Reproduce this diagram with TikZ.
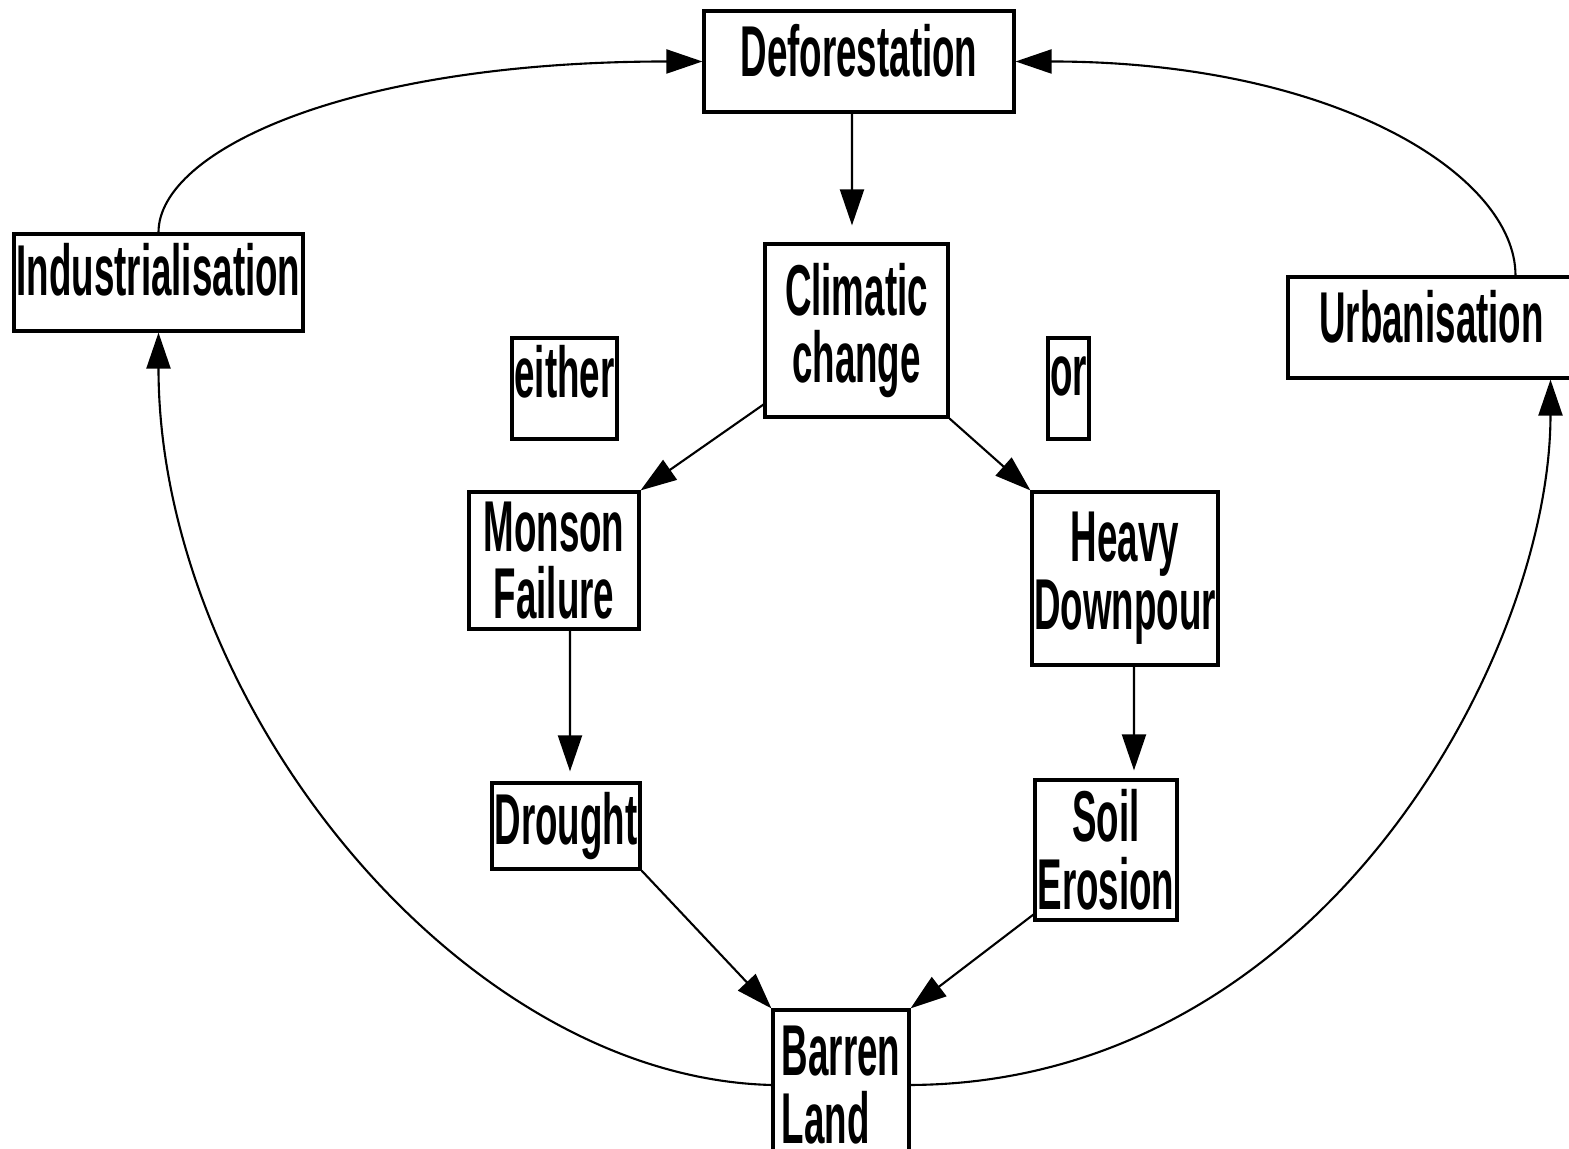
\documentclass[tikz,border=0pt]{standalone}
\usepackage{fontspec}
\newfontfamily\boxfont{Liberation Sans}[FakeStretch=0.51]
\usetikzlibrary{arrows.meta}

\begin{document}
\begin{tikzpicture}[>={Triangle[length=0.36cm,width=0.24cm]},line width=0.6pt,
  box/.style={draw,line width=0.9pt,inner sep=0pt,align=center,
    font=\boxfont\bfseries\fontsize{20.5pt}{19.3pt}\selectfont}]

\useasboundingbox (0,0) rectangle (15.69,11.49);

\node[box,minimum width=3.10cm,minimum height=1.01cm,text depth=0.23cm] (defor) at (8.59,10.875) {Deforestation};
\node[box,minimum width=1.83cm,minimum height=1.73cm] (climatic) at (8.565,8.185) {Climatic\\change};
\node[box,minimum width=2.89cm,minimum height=0.97cm,text depth=0.27cm] (indus) at (1.585,8.665) {Industrialisation};
\node[box,minimum width=2.87cm,minimum height=1.01cm,text depth=0.23cm] (urban) at (14.315,8.215) {Urbanisation};
\node[box,minimum width=1.05cm,minimum height=1.01cm,text depth=0.34cm] (either) at (5.645,7.605) {either};
\node[box,minimum width=0.41cm,minimum height=1.01cm,text depth=0.24cm] (orbox) at (10.685,7.605) {or};
\node[box,minimum width=1.70cm,minimum height=1.37cm] (monson) at (5.54,5.885) {Monson\\Failure};
\node[box,minimum width=1.86cm,minimum height=1.73cm] (heavy) at (11.25,5.705) {Heavy\\Downpour};
\node[box,minimum width=1.48cm,minimum height=0.86cm] (drought) at (5.66,3.23) {Drought};
\node[box,minimum width=1.42cm,minimum height=1.40cm] (soil) at (11.06,2.99) {Soil\\Erosion};
\node[box,minimum width=1.36cm,minimum height=1.50cm,align=left] (barren) at (8.41,0.64) {Barren\\Land};

\draw[->,shorten >=0.17cm] ([xshift=-0.07cm]defor.south) -- ([xshift=-0.045cm]climatic.north);
\draw[->] ([yshift=0.14cm]climatic.south west) -- (monson.north east);
\draw[->] (climatic.south east) -- (heavy.north west);
\draw[->,shorten >=0.1cm] ([xshift=0.16cm]monson.south) -- ([xshift=0.04cm]drought.north);
\draw[->,shorten >=0.08cm] ([xshift=0.09cm]heavy.south) -- ([xshift=0.28cm]soil.north);
\draw[->] (drought.south east) -- (barren.north west);
\draw[->] ([yshift=0.07cm]soil.south west) -- (barren.north east);

\draw[->] (indus.north) .. controls +(0,0.82) and +(-3.54,0) .. (defor.west);
\draw[->] ([xshift=0.84cm]urban.north) .. controls +(0,1.00) and +(3.20,0) .. (defor.east);
\draw[->] (barren.west) .. controls +(-3.15,0.08) and +(0,-3.67) .. (indus.south);
\draw[->] (barren.east) .. controls +(4.13,0.02) and +(0,-2.73) .. ([xshift=1.19cm]urban.south);

\end{tikzpicture}
\end{document}
